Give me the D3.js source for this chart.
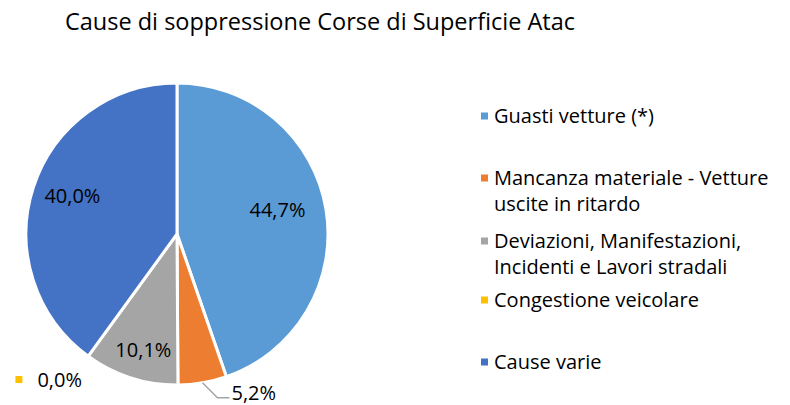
<!DOCTYPE html>
<html>
<head>
<meta charset="utf-8">
<script src="https://cdn.jsdelivr.net/npm/d3@7"></script>
<style>
  html, body { margin: 0; padding: 0; background: #fff; }
  svg text { font-family: "Open Sans", sans-serif; fill: #000; }
</style>
</head>
<body>
<svg id="chart" width="790" height="405"></svg>
<script>
const title = "Cause di soppressione Corse di Superficie Atac";
const categories = [
  "Guasti vetture (*)",
  "Mancanza materiale - Vetture uscite in ritardo",
  "Deviazioni, Manifestazioni, Incidenti e Lavori stradali",
  "Congestione veicolare",
  "Cause varie"
];
// legend lines as wrapped in the original
const legendLines = [
  ["Guasti vetture (*)"],
  ["Mancanza materiale - Vetture", "uscite in ritardo"],
  ["Deviazioni, Manifestazioni,", "Incidenti e Lavori stradali"],
  ["Congestione veicolare"],
  ["Cause varie"]
];
const values = [44.7, 5.2, 10.1, 0.0, 40.0];
const colors = ["#5b9bd5", "#ed7d31", "#a5a5a5", "#ffc000", "#4472c4"];

// layout
const cx = 177, cy = 234, R = 151;
const fs = "20px";
const labelNudge = [[-8, -6], [0, 0], [0, 11], [0, 0], [0, -4]];

const svg = d3.select("#chart");

svg.append("text")
  .attr("x", 320).attr("y", 30)
  .attr("text-anchor", "middle")
  .style("font-size", "23.5px")
  .text(title);

const data = categories.map((c, i) => ({ name: c, value: values[i], color: colors[i], idx: i }));
const pie = d3.pie().sort(null).value(d => d.value);
const arcs = pie(data);
const arc = d3.arc().innerRadius(0).outerRadius(R);
const labelArc = d3.arc().innerRadius(110).outerRadius(110);
const outerArc = d3.arc().innerRadius(R).outerRadius(R);

const g = svg.append("g").attr("transform", `translate(${cx},${cy})`);

g.selectAll("path.slice")
  .data(arcs.filter(a => a.value > 0))
  .join("path")
  .attr("class", "slice")
  .attr("d", arc)
  .attr("fill", d => d.data.color)
  .attr("stroke", "#fff")
  .attr("stroke-width", 3)
  .attr("stroke-linejoin", "round");

const fmt = v => d3.format(".1f")(v).replace(".", ",") + "%";

// labels: inside for large slices, outside with leader / key for small ones
arcs.forEach(a => {
  const mid = (a.startAngle + a.endAngle) / 2;
  const pct = a.value;
  const nudge = labelNudge[a.data.idx];
  if (pct >= 8) {
    const [x, y] = labelArc.centroid(a);
    g.append("text")
      .attr("x", x + nudge[0]).attr("y", y + nudge[1])
      .attr("text-anchor", "middle")
      .attr("dy", "0.35em")
      .style("font-size", fs)
      .text(fmt(pct));
  } else if (pct > 0) {
    const [x0, y0] = outerArc.centroid(a);
    const x1 = x0 + 15, y1 = y0 + 15;
    const x2 = x1 + 12;
    g.append("path")
      .attr("d", `M${x0},${y0}L${x1},${y1}L${x2},${y1}`)
      .attr("fill", "none")
      .attr("stroke", "#a5a5a5")
      .attr("stroke-width", 1.5);
    g.append("text")
      .attr("x", x2 + 2).attr("y", y1 - 5)
      .attr("dy", "0.35em")
      .style("font-size", fs)
      .text(fmt(pct));
  } else {
    // zero slice: label outside, with colour key
    const r = R * 1.22;
    const x = Math.sin(mid) * r - 9, y = -Math.cos(mid) * r - 3;
    const t = g.append("text")
      .attr("x", x).attr("y", y)
      .attr("text-anchor", "middle")
      .attr("dy", "0.35em")
      .style("font-size", fs)
      .text(fmt(pct));
    const w = t.node().getComputedTextLength();
    g.append("rect")
      .attr("x", x - w / 2 - 22).attr("y", y - 4)
      .attr("width", 7).attr("height", 7)
      .attr("fill", a.data.color);
  }
});

// legend
const legendY = [116, 178, 241, 300, 362];
const lg = svg.append("g").attr("transform", "translate(481,0)");
legendLines.forEach((lines, i) => {
  const y = legendY[i];
  lg.append("rect")
    .attr("x", 0).attr("y", y - 3.5)
    .attr("width", 7).attr("height", 7)
    .attr("fill", colors[i]);
  lines.forEach((ln, j) => {
    lg.append("text")
      .attr("x", 13).attr("y", y + j * 25.5)
      .attr("dy", "0.35em")
      .style("font-size", fs)
      .text(ln);
  });
});
</script>
</body>
</html>
